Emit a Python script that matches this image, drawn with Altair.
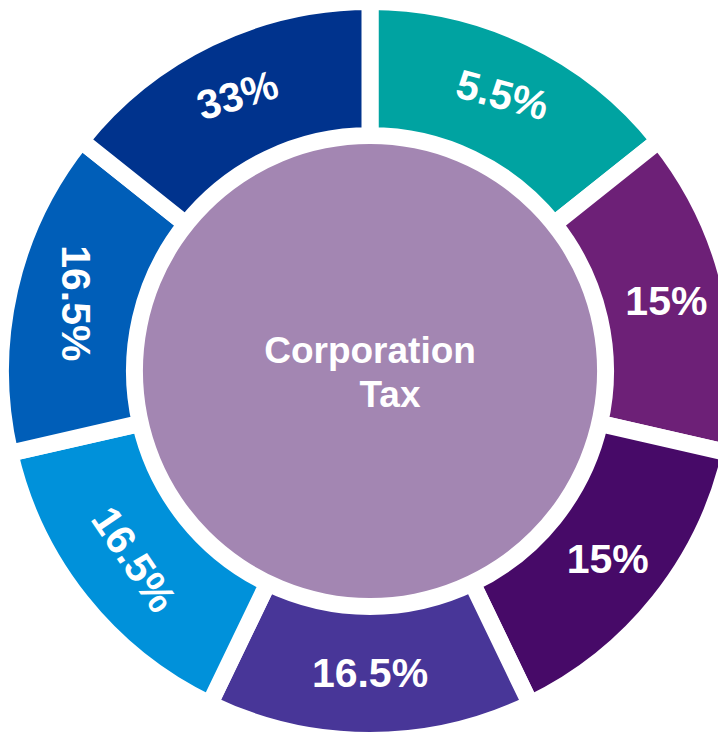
import altair as alt
import pandas as pd

# Segment labels (clockwise from 12 o'clock) and equal segment sizes
labels = ["5.5%", "15%", "15%", "16.5%", "16.5%", "16.5%", "33%"]
shares = [1, 1, 1, 1, 1, 1, 1]
colors = ["#00A3A1", "#6D2077", "#470A68", "#483698", "#0091DA", "#005EB8", "#00338D"]
label_rotation = [15, 0, 0, 0, 56, 90, 343]
center_title = "Corporation"
center_subtitle = "Tax"
center_color = "#A386B2"

df = pd.DataFrame({
    "idx": list(range(len(labels))),
    "label": labels,
    "share": shares,
    "color": colors,
    "rot": label_rotation,
})

CX, CY = 362, 363

base = alt.Chart(df).encode(
    theta=alt.Theta("share:Q", stack=True),
    order=alt.Order("idx:Q", sort="ascending"),
    x=alt.value(CX),
    y=alt.value(CY),
)

ring = base.mark_arc(
    radius=369.5, radius2=235.5, stroke="white", strokeWidth=17, strokeJoin="miter"
).encode(color=alt.Color("color:N", scale=None))

seg_text = base.mark_text(
    radius=304, font="Liberation Sans", fontSize=41, fontWeight="bold",
    color="white", align="center", baseline="middle"
).encode(text="label:N", angle=alt.Angle("rot:Q", scale=None))

one = pd.DataFrame({"k": [0]})
circle = alt.Chart(one).mark_arc(radius=227, color=center_color).encode(
    theta=alt.value(0), theta2=alt.value(6.2832), x=alt.value(CX), y=alt.value(CY)
)

title_text = alt.Chart(one).mark_text(
    text=center_title, font="Liberation Sans", fontSize=37, fontWeight="bold",
    color="white", align="center", baseline="alphabetic", dy=-8
).encode(x=alt.value(CX), y=alt.value(CY))

sub_text = alt.Chart(one).mark_text(
    text=center_subtitle, font="Liberation Sans", fontSize=37, fontWeight="bold",
    color="white", align="center", baseline="alphabetic", dy=36, dx=20
).encode(x=alt.value(CX), y=alt.value(CY))

chart = alt.layer(ring, circle, seg_text, title_text, sub_text).properties(
    width=710, height=726, autosize="none", padding=0
).configure_view(stroke=None)

chart.save("out.html", embed_options={"renderer": "svg", "actions": False})
